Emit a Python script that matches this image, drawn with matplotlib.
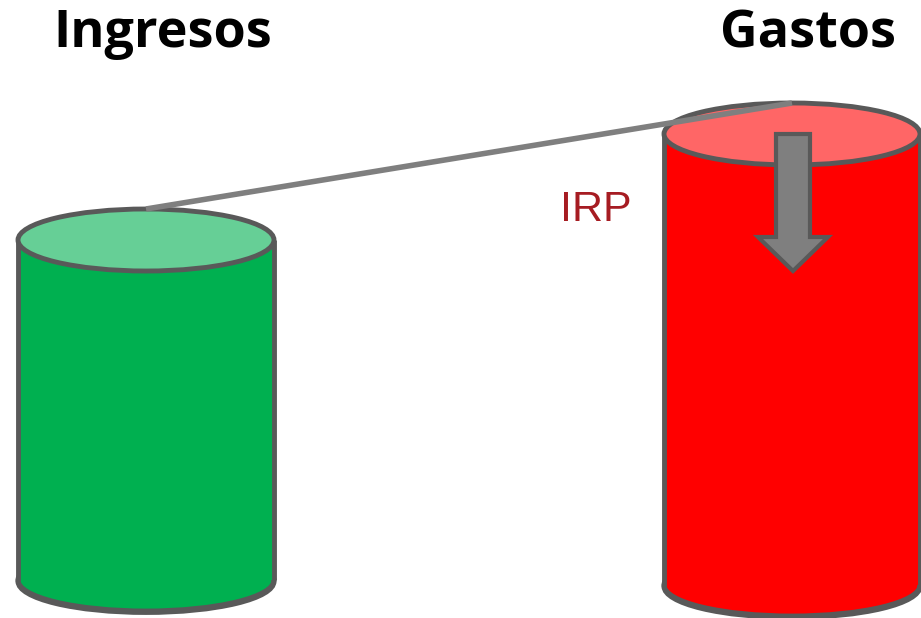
import matplotlib
matplotlib.use("Agg")
import matplotlib.pyplot as plt
from matplotlib.patches import Ellipse, Rectangle, Polygon

W, H = 921, 618
fig = plt.figure(figsize=(W / 100, H / 100), dpi=100)
ax = fig.add_axes([0, 0, 1, 1])
ax.set_xlim(0, W)
ax.set_ylim(H, 0)
ax.axis("off")

# Data
labels = ["Ingresos", "Gastos"]
body_colors = ["#00B050", "#FF0000"]
top_colors = ["#66CF96", "#FF6666"]
centers_x = [146, 792]
tops_y = [240, 134]
bottoms_y = [580, 585]
rx = 128
ry = 31
edge = "#595959"
lw = 3.5

for cx, ty, by, bc, tc in zip(centers_x, tops_y, bottoms_y, body_colors, top_colors):
    ax.add_patch(Ellipse((cx, by), 2 * rx, 2 * ry, facecolor=bc, edgecolor=edge, lw=lw, zorder=1))
    ax.add_patch(Ellipse((cx, by + 1.5), 2 * rx, 2 * ry, facecolor="none", edgecolor=edge, lw=lw, zorder=1))
    ax.add_patch(Rectangle((cx - rx, ty), 2 * rx, by - ty, facecolor=bc, edgecolor="none", zorder=2))
    ax.plot([cx - rx, cx - rx], [ty, by], color=edge, lw=lw, zorder=3, solid_capstyle="butt")
    ax.plot([cx + rx, cx + rx], [ty, by], color=edge, lw=lw, zorder=3, solid_capstyle="butt")
    ax.add_patch(Ellipse((cx, ty), 2 * rx, 2 * ry, facecolor=tc, edgecolor=edge, lw=lw, zorder=4))

# connector line between tops
ax.plot([centers_x[0], centers_x[1]], [tops_y[0] - ry, tops_y[1] - ry],
        color="#7F7F7F", lw=4, zorder=5, solid_capstyle="butt")

# down arrow
ac = 793
arrow = Polygon([(ac - 17, 134), (ac + 17, 134), (ac + 17, 237), (ac + 35, 237),
                 (ac, 271), (ac - 35, 237), (ac - 17, 237)], closed=True,
                facecolor="#7F7F7F", edgecolor=edge, lw=3, zorder=6, joinstyle="miter")
ax.add_patch(arrow)

ax.text(596, 210, "IRP", color="#A61C22", fontsize=31, family="Liberation Sans",
        ha="center", va="center", zorder=7)

title_x = [163, 808]
for tx, lab in zip(title_x, labels):
    ax.text(tx, 34, lab, fontsize=37.5, fontweight="bold", family="Open Sans",
            ha="center", va="center", color="black")

fig.savefig("out.png", dpi=100)
